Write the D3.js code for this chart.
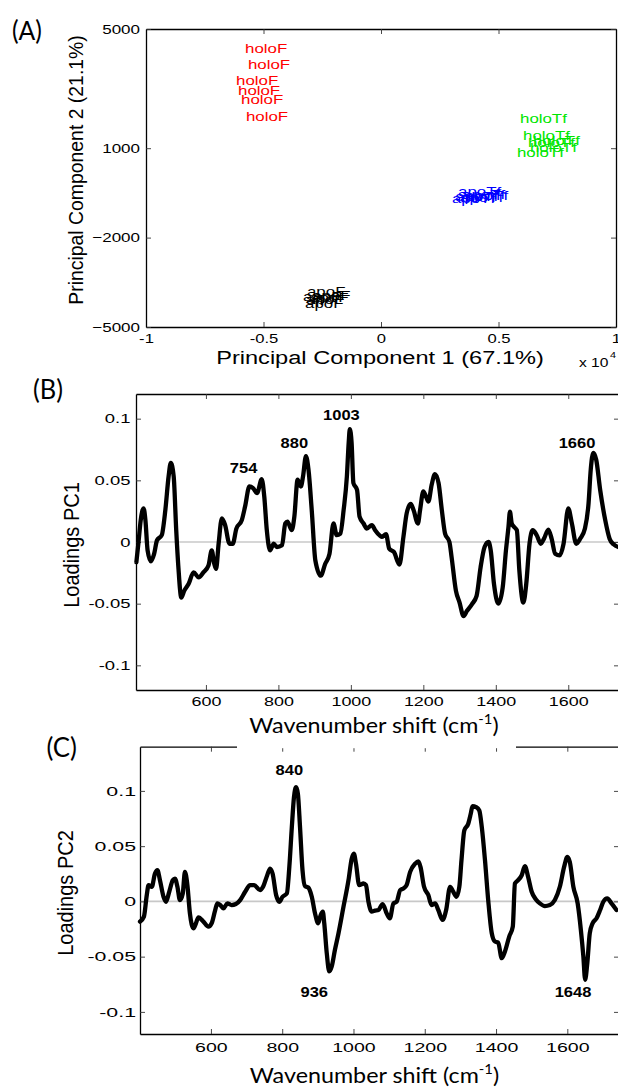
<!DOCTYPE html>
<html>
<head>
<meta charset="utf-8">
<script src="https://cdn.jsdelivr.net/npm/d3@7"></script>
<style>
body { margin: 0; background: #fff; }
svg { display: block; }
</style>
</head>
<body>
<script>
// ---------- data ----------
// (A) PCA scores, PC1 / PC2
const pcaXTicks = [-10000, -5000, 0, 5000, 10000];
const pcaXTickLabels = ['-1', '-0.5', '0', '0.5', '1'];
const pcaYTicks = [-5000, -2000, 1000, 5000];

const holoF_pc1 = [-5787, -5660, -6170, -6085, -5957, -5745];
const holoF_pc2 = [4362, 3826, 3289, 2953, 2651, 2081];
const holoTf_pc1 = [5915, 6043, 6255, 6468, 6340, 5787];
const holoTf_pc2 = [2013, 1443, 1208, 1275, 1040, 872];
const apoTf_pc1 = [3277, 3021, 3149, 3447, 3362, 3574];
const apoTf_pc2 = [-436, -671, -604, -537, -638, -570];
const apoF_pc1 = [-3149, -3319, -3021, -3191, -2936, -3234];
const apoF_pc2 = [-3792, -3960, -3993, -4060, -3926, -4195];

// (B) and (C) loadings
const waveTicks = [600, 800, 1000, 1200, 1400, 1600];
const loadTicks = [-0.1, -0.05, 0, 0.05, 0.1];

const pc1Wave = [408, 414, 420, 428, 433, 439, 448, 457, 465, 478, 488, 497, 503, 511, 518, 524, 532, 540, 552, 566,
	580, 593, 607, 616, 623, 628, 635, 644, 653, 665, 674, 684, 699, 708, 720, 730, 741, 754, 761, 768,
	777, 787, 796, 810, 819, 825, 837, 844, 853, 862, 868, 876, 883, 892, 902, 917, 929, 941, 952, 961,
	971, 980, 989, 994, 997, 1002, 1007, 1017, 1024, 1035, 1044, 1058, 1067, 1079, 1085, 1097, 1106, 1119, 1134, 1145,
	1154, 1165, 1173, 1185, 1191, 1200, 1208, 1214, 1223, 1232, 1242, 1251, 1260, 1272, 1278, 1290, 1300, 1311, 1320, 1334,
	1347, 1358, 1369, 1380, 1386, 1395, 1407, 1419, 1428, 1435, 1439, 1444, 1450, 1458, 1465, 1476, 1484, 1493, 1502, 1513,
	1524, 1533, 1545, 1554, 1564, 1576, 1587, 1600, 1610, 1622, 1633, 1646, 1656, 1662, 1669, 1677, 1688, 1702, 1714, 1725, 1738];
const pc1Load = [-0.0164, 0, 0.0177, 0.0273, 0.0177, -0.0068, -0.0156, -0.0096, 0.0014, 0.0055, 0.0259, 0.0532, 0.0642, 0.0532, 0.0096, -0.0205, -0.045, -0.0396, -0.0341, -0.0246,
	-0.0287, -0.0246, -0.0191, -0.0068, -0.0177, -0.0218, -0.0014, 0.0191, 0.0137, -0.0014, -0.0014, 0.0109, 0.0177, 0.0287, 0.045, 0.0437, 0.0396, 0.051, 0.0369, 0.0096,
	-0.0068, -0.0014, -0.0041, -0.0027, 0.015, 0.0164, 0.0096, 0.0205, 0.0505, 0.045, 0.0532, 0.0696, 0.0587, 0.0259, -0.015, -0.0273, -0.0178, -0.0096, 0.015, 0.0055,
	0.0068, 0.0259, 0.0532, 0.0805, 0.0914, 0.0805, 0.0478, 0.0423, 0.0205, 0.015, 0.0109, 0.0137, 0.0096, 0.0055, 0.0041, 0.0063, -0.0055, -0.0082, -0.0183, 0.0041,
	0.0232, 0.0308, 0.0259, 0.015, 0.0259, 0.041, 0.0363, 0.0328, 0.0464, 0.0551, 0.0478, 0.0259, 0.0068, 0, -0.0123, -0.0396, -0.0491, -0.0601, -0.056, -0.0505,
	-0.0437, -0.0205, -0.0041, 0, -0.0068, -0.0341, -0.05, -0.0369, -0.0068, 0.0123, 0.0246, 0.015, 0.0123, 0.0096, -0.0232, -0.0491, -0.0341, -0.0014, 0.0096, 0.0055,
	-0.0014, 0.0027, 0.0101, 0.0027, -0.0096, -0.0109, -0.0014, 0.0273, 0.015, -0.0014, 0.0027, 0.0109, 0.0314, 0.0587, 0.0723, 0.0669, 0.0423, 0.0177, 0.0027, -0.0019, -0.0041];

const pc2Wave = [401, 412, 420, 425, 434, 443, 450, 457, 467, 474, 483, 493, 499, 506, 513, 521, 527, 534, 541, 551,
	558, 565, 579, 593, 602, 612, 618, 626, 635, 646, 658, 670, 682, 696, 710, 721, 738, 747, 758, 766,
	773, 783, 792, 801, 813, 820, 827, 833, 839, 844, 850, 857, 864, 873, 883, 892, 901, 908, 914, 918,
	925, 932, 939, 948, 958, 972, 986, 995, 1001, 1007, 1016, 1028, 1035, 1042, 1051, 1060, 1070, 1082, 1093, 1102,
	1112, 1121, 1131, 1140, 1149, 1159, 1173, 1182, 1188, 1198, 1210, 1219, 1229, 1238, 1250, 1260, 1271, 1280, 1289, 1297,
	1303, 1311, 1322, 1329, 1334, 1344, 1353, 1360, 1369, 1378, 1388, 1397, 1406, 1416, 1425, 1437, 1447, 1453, 1462, 1472,
	1481, 1490, 1500, 1512, 1523, 1537, 1551, 1565, 1579, 1591, 1600, 1607, 1617, 1629, 1638, 1645, 1650, 1656, 1663, 1671,
	1682, 1692, 1701, 1712, 1724, 1738];
const pc2Load = [-0.0183, -0.0138, 0.0057, 0.0147, 0.0132, 0.0252, 0.0282, 0.0192, 0.0042, -0.0003, 0.0087, 0.0192, 0.0207, 0.0132, 0.0012, 0.0072, 0.0267, 0.0147, -0.0108, -0.0243,
	-0.0198, -0.0144, -0.0183, -0.0228, -0.0198, -0.0078, -0.0018, -0.0033, -0.0063, -0.0018, -0.0033, -0.0024, 0.0012, 0.0087, 0.0147, 0.0147, 0.0102, 0.0138, 0.0237, 0.0297,
	0.0252, 0.0057, -0.0003, 0.0042, 0.0072, 0.0312, 0.0673, 0.0943, 0.1033, 0.0973, 0.0673, 0.0282, 0.0138, 0.0126, 0.0042, -0.0108, -0.0198, -0.0123, -0.0093, -0.0198,
	-0.0468, -0.0634, -0.0589, -0.0438, -0.0288, -0.0048, 0.0192, 0.0387, 0.0432, 0.0342, 0.0147, 0.0162, 0.0147, -0.0003, -0.0093, -0.0084, -0.0078, -0.0024, -0.0108, -0.0153,
	-0.0018, -0.0003, 0.0102, 0.0117, 0.0147, 0.0267, 0.0342, 0.0363, 0.0312, 0.0132, 0.0057, -0.0033, -0.0018, -0.0078, -0.0168, -0.0078, 0.0132, 0.0087, 0.0042, 0.0132,
	0.0372, 0.0643, 0.0703, 0.0793, 0.0862, 0.0853, 0.0823, 0.0673, 0.0372, 0.0012, -0.0288, -0.0363, -0.0372, -0.0514, -0.0453, -0.0318, -0.0228, 0.0162, 0.0192, 0.0237,
	0.0318, 0.0222, 0.0087, 0.0018, -0.0018, -0.0042, -0.0033, 0.0012, 0.0132, 0.0312, 0.0402, 0.0357, 0.0132, -0.0018, -0.0258, -0.0498, -0.0709, -0.0559, -0.0288, -0.0198,
	-0.0153, -0.0078, -0.0003, 0.0027, -0.0018, -0.0078];

// peak annotations (text placed in data space)
const pc1PeakText = ['754', '880', '1003', '1660'];
const pc1PeakWave = [704, 844, 974, 1624];
const pc1PeakLoad = [0.0557, 0.0765, 0.0989, 0.076];
const pc2PeakText = ['840', '936', '1648'];
const pc2PeakWave = [820, 890, 1616];
const pc2PeakLoad = [0.1144, -0.0862, -0.0862];

// ---------- drawing ----------
const SANS = '"Liberation Sans", Arial, sans-serif';
const CAL = 'Lato, "Open Sans", sans-serif';

const svg = d3.select('body').append('svg').attr('width', 618).attr('height', 1088);
svg.append('rect').attr('width', 618).attr('height', 1088).attr('fill', '#fff');

// text with optional horizontal stretch / fit-to-width
function txt(g, s, x, y, o) {
	const t = g.append('text')
		.attr('font-family', o.family || SANS)
		.attr('font-size', o.size)
		.attr('font-weight', o.weight || 'normal')
		.attr('text-anchor', o.anchor || 'start')
		.attr('fill', o.fill || '#000');
	if (o.dy) t.attr('dy', o.dy);
	if (typeof s === 'function') s(t);
	else t.text(s);
	let sx = o.sx || 1;
	if (o.width) sx = o.width / t.node().getComputedTextLength();
	t.attr('transform', 'translate(' + x + ',' + y + ') scale(' + sx + ',1)' + (o.rot ? ' rotate(' + o.rot + ')' : ''));
	return t;
}

// box with inward ticks on all four sides
function frame(g, x, y, o) {
	const bottom = d3.axisBottom(x).tickValues(o.xTicks).tickSizeInner(-5).tickSizeOuter(0).tickPadding(o.xPad)
		.tickFormat(o.xFormat || d3.format('d'));
	const left = d3.axisLeft(y).tickValues(o.yTicks).tickSizeInner(-5).tickSizeOuter(0).tickPadding(0);
	if (o.yFormat) left.tickFormat(o.yFormat);

	const gb = g.append('g').attr('transform', 'translate(0,' + y.range()[0] + ')').call(bottom);
	g.append('g').attr('transform', 'translate(0,' + y.range()[1] + ')')
		.call(d3.axisTop(x).tickValues(o.xTicks).tickSizeInner(-5).tickSizeOuter(0).tickFormat(''));
	const gl = g.append('g').attr('transform', 'translate(' + x.range()[0] + ',0)').call(left);
	g.append('g').attr('transform', 'translate(' + x.range()[1] + ',0)')
		.call(d3.axisRight(y).tickValues(o.yTicks).tickSizeInner(-5).tickSizeOuter(0).tickFormat(''));

	g.selectAll('.domain').attr('stroke', '#000').attr('stroke-width', 1.3);
	g.selectAll('.tick line').attr('stroke', '#333').attr('stroke-width', 0.9);

	gb.selectAll('text')
		.attr('font-family', SANS).attr('font-size', o.xSize).attr('fill', '#000')
		.attr('transform', 'scale(' + o.xSx + ',1)');
	gl.selectAll('text')
		.attr('font-family', SANS).attr('font-size', o.ySize).attr('fill', '#000')
		.attr('x', -o.yPad / o.ySx)
		.attr('transform', 'scale(' + o.ySx + ',1)');
	g.selectAll('.tick text').filter(function() { return this.textContent === ''; }).remove();
}

// ================= (A) =================
const gA = svg.append('g');
const xA = d3.scaleLinear().domain([-10000, 10000]).range([146, 616]);
const yA = d3.scaleLinear().domain([-5000, 5000]).range([327, 29]);

frame(gA, xA, yA, {
	xTicks: pcaXTicks, xFormat: (d, i) => pcaXTickLabels[i], xPad: 6.5, xSize: 13, xSx: 1.28,
	yTicks: pcaYTicks, yFormat: d3.format('d'), yPad: 6, ySize: 13, ySx: 1.31
});

const groups = [
	{ name: 'holoF', color: '#ff0000', pc1: holoF_pc1, pc2: holoF_pc2 },
	{ name: 'holoTf', color: '#00e600', pc1: holoTf_pc1, pc2: holoTf_pc2 },
	{ name: 'apoTf', color: '#0000ff', pc1: apoTf_pc1, pc2: apoTf_pc2 },
	{ name: 'apoF', color: '#000000', pc1: apoF_pc1, pc2: apoF_pc2 }
];
groups.forEach(function(grp) {
	grp.pc1.forEach(function(v, i) {
		txt(gA, grp.name, xA(v), yA(grp.pc2[i]), { size: 13.5, sx: 1.25, fill: grp.color, dy: '0.35em' });
	});
});

txt(svg, 'Principal Component 1 (67.1%)', 380, 364, { size: 19, anchor: 'middle', width: 328 });
txt(svg, 'Principal Component 2 (21.1%)', 83, 170, { size: 19.4, anchor: 'middle', sx: 1.08, rot: -90 });
txt(svg, 'x 10', 579, 367, { size: 12, sx: 1.3 });
txt(svg, '4', 610, 358, { size: 9, sx: 1.2 });
txt(svg, '(A)', 12, 40, { size: 26, family: CAL, width: 30 });

// ================= (B) =================
const gB = svg.append('g');
const xB = d3.scaleLinear().domain([407, 1740]).range([136, 619]);
const yB = d3.scaleLinear().domain([-0.12, 0.12]).range([690, 394]);

gB.append('line').attr('x1', xB.range()[0]).attr('x2', xB.range()[1])
	.attr('y1', yB(0)).attr('y2', yB(0)).attr('stroke', '#c8c8c8').attr('stroke-width', 1.6);

frame(gB, xB, yB, {
	xTicks: waveTicks, xPad: 6.4, xSize: 13, xSx: 1.38,
	yTicks: loadTicks, yFormat: d => (d === 0 ? '0' : String(d)), yPad: 5.5, ySize: 13, ySx: 1.42
});

const lineB = d3.line().x(d => xB(d[0])).y(d => yB(d[1])).curve(d3.curveMonotoneX);
gB.append('path').datum(d3.zip(pc1Wave, pc1Load)).attr('d', lineB)
	.attr('fill', 'none').attr('stroke', '#000').attr('stroke-width', 4.3)
	.attr('stroke-linejoin', 'round').attr('stroke-linecap', 'round');

pc1PeakText.forEach(function(s, i) {
	txt(gB, s, xB(pc1PeakWave[i]), yB(pc1PeakLoad[i]), { size: 15, weight: 'bold', anchor: 'middle', sx: 1.1 });
});

txt(svg, 'Loadings PC1', 79, 545, { size: 20, anchor: 'middle', sx: 1.12, rot: -90 });
txt(svg, '(B)', 33, 399, { size: 26, family: CAL, width: 30 });

// ================= (C) =================
const gC = svg.append('g');
const xC = d3.scaleLinear().domain([401, 1745]).range([140, 619]);
const yC = d3.scaleLinear().domain([-0.12, 0.14]).range([1034, 746.7]);

gC.append('line').attr('x1', xC.range()[0]).attr('x2', xC.range()[1])
	.attr('y1', yC(0)).attr('y2', yC(0)).attr('stroke', '#c8c8c8').attr('stroke-width', 1.6);

frame(gC, xC, yC, {
	xTicks: waveTicks, xPad: 8, xSize: 13.5, xSx: 1.45,
	yTicks: loadTicks, yFormat: d => (d === 0 ? '0' : String(d)), yPad: 4, ySize: 13.5, ySx: 1.58
});

const lineC = d3.line().x(d => xC(d[0])).y(d => yC(d[1])).curve(d3.curveMonotoneX);
gC.append('path').datum(d3.zip(pc2Wave, pc2Load)).attr('d', lineC)
	.attr('fill', 'none').attr('stroke', '#000').attr('stroke-width', 4.3)
	.attr('stroke-linejoin', 'round').attr('stroke-linecap', 'round');

pc2PeakText.forEach(function(s, i) {
	txt(gC, s, xC(pc2PeakWave[i]), yC(pc2PeakLoad[i]), { size: 15, weight: 'bold', anchor: 'middle', sx: 1.1 });
});

txt(svg, 'Loadings PC2', 73, 893, { size: 20, anchor: 'middle', sx: 1.12, rot: -90 });
txt(svg, '(C)', 46.5, 757, { size: 26, family: CAL, width: 30.5 });

// x labels of (B) and (C); the (B) one sits on a white box that hides part of the (C) frame
function waveLabel(t) {
	t.append('tspan').text('Wavenumber shift (cm');
	t.append('tspan').attr('font-size', 14).attr('dy', -9).text('-1');
	t.append('tspan').attr('dy', 9).text(')');
}
svg.append('rect').attr('x', 237).attr('y', 706).attr('width', 279).attr('height', 42.2).attr('fill', '#fff');
txt(svg, waveLabel, 374, 733.3, { size: 22, family: CAL, anchor: 'middle', width: 249.5 });
txt(svg, waveLabel, 374.5, 1083.3, { size: 22, family: CAL, anchor: 'middle', width: 249.5 });
</script>
</body>
</html>
